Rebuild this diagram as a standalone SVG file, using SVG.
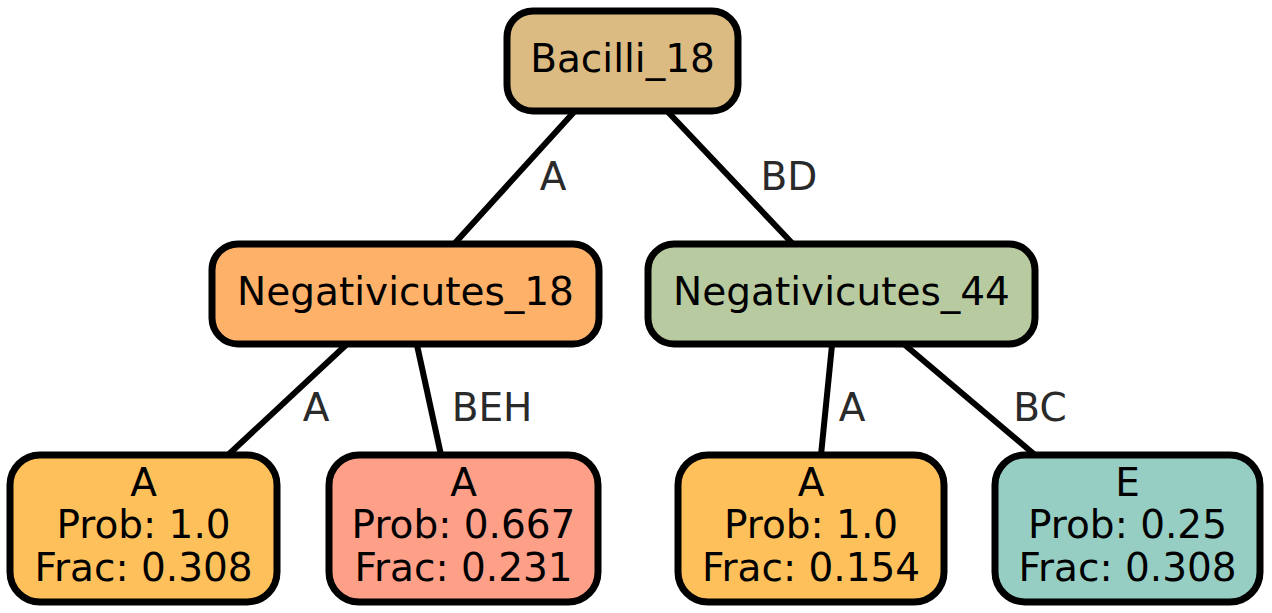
<svg xmlns="http://www.w3.org/2000/svg" width="1272" height="613" viewBox="0 0 1272 613">
<style>
.box{stroke:#000;stroke-width:7}
.t{font-family:"DejaVu Sans",sans-serif;font-size:39px;fill:#000;text-anchor:middle}
.el{font-family:"DejaVu Sans",sans-serif;font-size:39px;fill:#2a2a2a;text-anchor:middle}
.e{stroke:#000;stroke-width:6;fill:none}
</style>
<rect width="1272" height="613" fill="#fff"/>
<g id="connectors">
<line class="e" x1="574" y1="112" x2="455" y2="243"/>
<line class="e" x1="668" y1="112" x2="792" y2="243"/>
<line class="e" x1="346" y1="345" x2="228" y2="455"/>
<line class="e" x1="417" y1="345" x2="441" y2="455"/>
<line class="e" x1="832" y1="345" x2="821" y2="455"/>
<line class="e" x1="905" y1="345" x2="1035" y2="455"/>
<text class="el" x="553" y="190">A</text>
<text class="el" x="789" y="190">BD</text>
<text class="el" x="316" y="421">A</text>
<text class="el" x="492" y="421">BEH</text>
<text class="el" x="852" y="421">A</text>
<text class="el" x="1040" y="421">BC</text>
</g>
<g id="Bacilli_18">
<rect class="box" x="507" y="11" width="231" height="100" rx="26" fill="#DCBB83"/>
<text class="t" x="622.5" y="72">Bacilli_18</text>
</g>
<g id="Negativicutes_18">
<rect class="box" x="212" y="244" width="387" height="100" rx="26" fill="#FEB168"/>
<text class="t" x="405.5" y="305">Negativicutes_18</text>
</g>
<g id="Negativicutes_44">
<rect class="box" x="648" y="244" width="387" height="100" rx="26" fill="#B8CBA0"/>
<text class="t" x="841.5" y="305">Negativicutes_44</text>
</g>
<g id="leaf1">
<rect class="box" x="10" y="455" width="267" height="147" rx="30" fill="#FEC05A"/>
<text class="t" x="143.5" y="496">A</text>
<text class="t" x="143.5" y="538">Prob: 1.0</text>
<text class="t" x="143.5" y="581">Frac: 0.308</text>
</g>
<g id="leaf2">
<rect class="box" x="329" y="455" width="269" height="147" rx="30" fill="#FE9F88"/>
<text class="t" x="463.5" y="496">A</text>
<text class="t" x="463.5" y="538">Prob: 0.667</text>
<text class="t" x="463.5" y="581">Frac: 0.231</text>
</g>
<g id="leaf3">
<rect class="box" x="678" y="455" width="266" height="147" rx="30" fill="#FEC05A"/>
<text class="t" x="811" y="496">A</text>
<text class="t" x="811" y="538">Prob: 1.0</text>
<text class="t" x="811" y="581">Frac: 0.154</text>
</g>
<g id="leaf4">
<rect class="box" x="995" y="455" width="265" height="147" rx="30" fill="#96CEC4"/>
<text class="t" x="1127.5" y="496">E</text>
<text class="t" x="1127.5" y="538">Prob: 0.25</text>
<text class="t" x="1127.5" y="581">Frac: 0.308</text>
</g>
</svg>
